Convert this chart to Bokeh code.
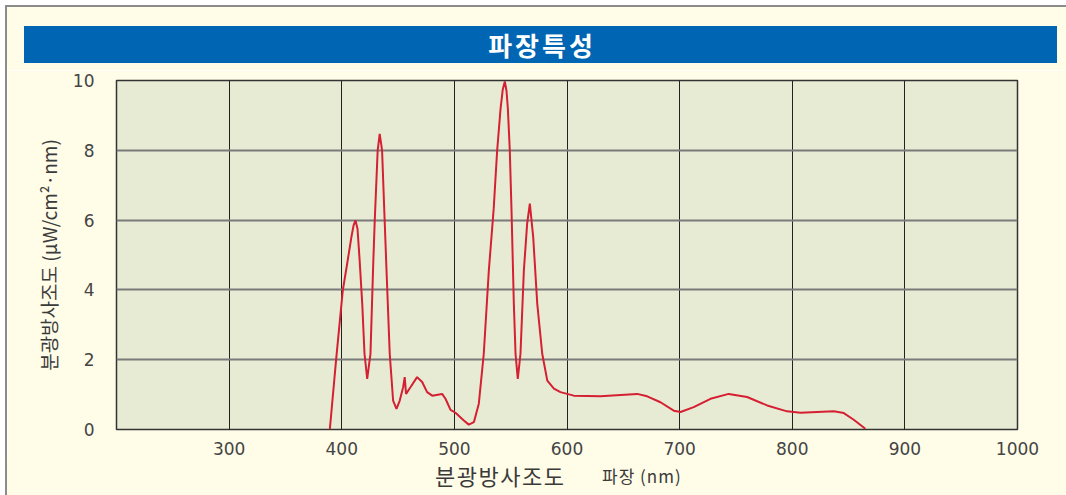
from bokeh.plotting import figure
from bokeh.models import FixedTicker, Range1d, Div
from bokeh.layouts import column
from bokeh.embed import file_html
from bokeh.resources import INLINE

# ---- data ----
wavelength = [389.4, 395.0, 400.9, 404.8, 408.5, 410.5, 412.2, 414.0, 415.9, 418.2,
              420.2, 422.6, 425.5, 428.0, 429.3, 431.9, 433.7, 435.8, 438.1, 439.7,
              442.6, 445.6, 448.6, 451.5, 454.5, 455.9, 457.1, 461.0, 466.9, 471.4,
              475.8, 480.3, 489.1, 492.1, 496.6, 501.0, 508.4, 512.8, 517.3, 521.7,
              526.1, 530.6, 534.9, 538.0, 541.0, 543.0, 544.8, 546.3, 547.5, 549.2,
              550.7, 552.8, 554.3, 556.3, 558.7, 561.7, 564.6, 567.0, 570.0, 573.6,
              578.0, 582.5, 588.4, 594.2, 606.0, 629.7, 662.3, 671.2, 683.0, 694.8,
              700.8, 712.5, 727.4, 743.6, 759.9, 777.7, 795.4, 807.3, 836.9, 845.8,
              854.6, 864.9]
irradiance = [0.0, 2.0, 3.98, 4.75, 5.5, 5.85, 5.99, 5.75, 4.84, 3.6,
              2.17, 1.45, 2.17, 4.8, 5.99, 8.0, 8.47, 8.0, 5.99, 4.6,
              2.17, 0.83, 0.59, 0.83, 1.21, 1.5, 1.02, 1.21, 1.5, 1.36,
              1.07, 0.97, 1.02, 0.88, 0.56, 0.48, 0.26, 0.14, 0.21, 0.74,
              2.17, 4.56, 6.32, 8.0, 9.19, 9.75, 9.97, 9.7, 9.19, 8.0,
              6.32, 3.6, 2.17, 1.45, 2.17, 4.56, 5.89, 6.47, 5.51, 3.6,
              2.17, 1.4, 1.17, 1.07, 0.97, 0.95, 1.02, 0.95, 0.78, 0.54,
              0.5, 0.64, 0.88, 1.02, 0.93, 0.69, 0.52, 0.48, 0.52, 0.47,
              0.28, 0.02]
x_ticks = [300, 400, 500, 600, 700, 800, 900, 1000]
y_ticks = [0, 2, 4, 6, 8, 10]
title_text = "파장특성"
y_label = "분광방사조도 (μW/cm²·nm)"
x_label_main = "분광방사조도"
x_label_sub = "파장 (nm)"

CREAM = "#FFFCE8"
PLOT_BG = "#E8EBD4"
BLUE = "#0066B3"
TXT = "#3a3a3a"
BORDER = "#8c8c8c"
KR = "Noto Sans CJK KR"
W = 1066

# ---- header: outer frame + blue title bar ----
header_html = (
    f'<div style="position:relative;width:{W}px;height:70px;background:#ffffff;">'
    f'<div style="position:absolute;left:5px;top:5px;width:{W - 5}px;height:65px;'
    f'background:{CREAM};border-left:2px solid {BORDER};border-top:2px solid {BORDER};'
    f'box-sizing:border-box;"></div>'
    f'<div style="position:absolute;left:24px;top:26px;width:1033px;height:37px;'
    f'background:{BLUE};color:#ffffff;font-family:\'{KR}\';font-weight:bold;'
    f'font-size:26px;line-height:37px;letter-spacing:3px;padding-left:3px;'
    f'box-sizing:border-box;text-align:center;">{title_text}</div>'
    f'</div>'
)
header = Div(text=header_html, width=W, height=70, margin=(0, 0, 0, 0))

# ---- main chart ----
p = figure(width=W - 7, height=389, output_backend="svg", toolbar_location=None,
           x_range=Range1d(200, 1000), y_range=Range1d(0, 10),
           min_border_left=109, min_border_right=49, min_border_top=10,
           min_border_bottom=30, margin=(0, 0, 0, 7),
           styles={"box-shadow": f"-2px 0 0 {BORDER}"})
p.background_fill_color = PLOT_BG
p.border_fill_color = CREAM
p.outline_line_color = "#333333"
p.outline_line_width = 1.5

p.xaxis.ticker = FixedTicker(ticks=x_ticks)
p.yaxis.ticker = FixedTicker(ticks=y_ticks)
for ax in (p.xaxis, p.yaxis):
    ax.axis_line_color = None
    ax.major_tick_line_color = None
    ax.minor_tick_line_color = None
    ax.major_label_text_font = "DejaVu Sans"
    ax.major_label_text_font_size = "17px"
    ax.major_label_text_color = "#444444"
p.xaxis.major_label_standoff = 6
p.yaxis.major_label_standoff = 16

p.yaxis.axis_label = y_label
p.yaxis.axis_label_text_font = KR
p.yaxis.axis_label_text_font_size = "19px"
p.yaxis.axis_label_text_font_style = "normal"
p.yaxis.axis_label_text_color = TXT
p.yaxis.axis_label_standoff = 8

p.xgrid.grid_line_color = "#222222"
p.xgrid.grid_line_width = 1
p.ygrid.grid_line_color = "#7a7a7a"
p.ygrid.grid_line_width = 2

p.line(wavelength, irradiance, line_color="#D42032", line_width=2)

# ---- footer: x-axis caption ----
footer_html = (
    f'<div style="position:relative;width:{W}px;height:36px;background:#ffffff;">'
    f'<div style="position:absolute;left:5px;top:0px;width:{W - 5}px;height:36px;'
    f'background:{CREAM};border-left:2px solid {BORDER};box-sizing:border-box;"></div>'
    f'<span style="position:absolute;left:435px;top:5px;font-family:\'{KR}\';'
    f'font-size:22px;line-height:22px;letter-spacing:1.5px;color:{TXT};'
    f'white-space:nowrap;">{x_label_main}</span>'
    f'<span style="position:absolute;left:602px;top:8px;font-family:\'{KR}\';'
    f'font-size:17px;line-height:17px;letter-spacing:1px;color:{TXT};'
    f'white-space:nowrap;">{x_label_sub}</span>'
    f'</div>'
)
footer = Div(text=footer_html, width=W, height=36, margin=(0, 0, 0, 0))

layout = column(header, p, footer, spacing=0)
open("out.html", "w").write(file_html(layout, INLINE))
